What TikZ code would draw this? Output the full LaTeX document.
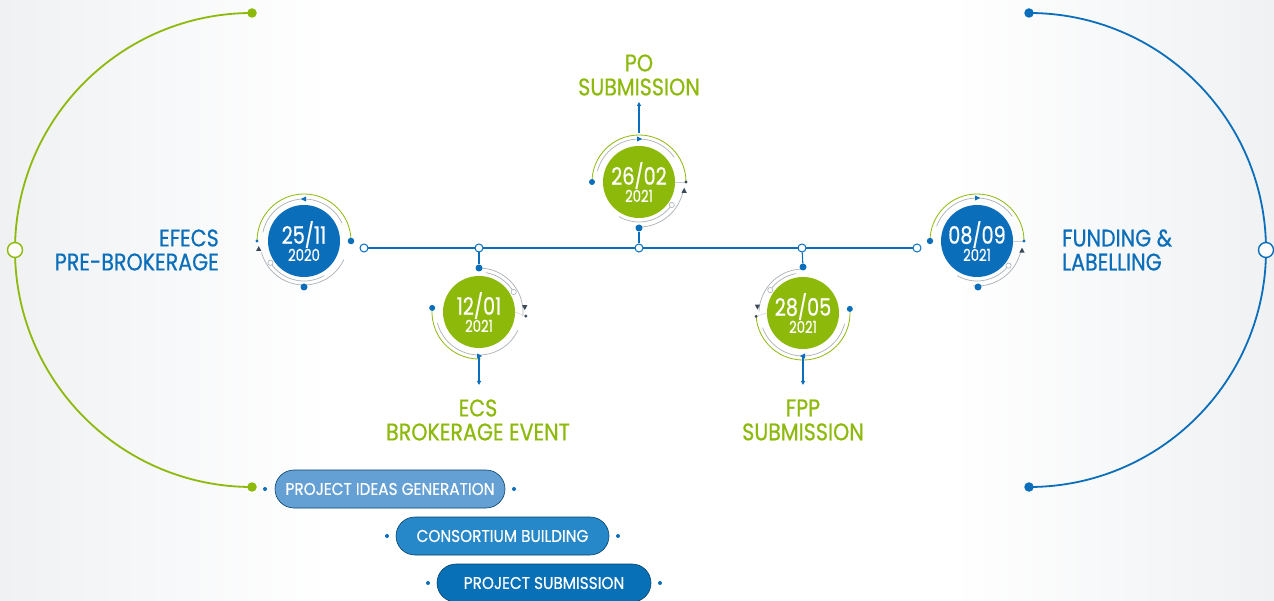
\documentclass[tikz,border=0pt]{standalone}
\usepackage{fontspec}
\setmainfont{Poppins}
\newfontfamily\lblfont[FakeStretch=0.86, FakeBold=0.6]{Poppins}
\newfontfamily\pillfont[FakeStretch=0.9, FakeBold=0.4]{Poppins}
\newfontfamily\datefont[FakeStretch=0.8, FakeBold=0.6]{Poppins}
\usetikzlibrary{arrows.meta,shapes.misc}
\definecolor{mblue}{RGB}{10,110,186}
\definecolor{mgreen}{RGB}{141,185,10}
\definecolor{ringgrey}{RGB}{170,176,182}
\definecolor{darkmark}{RGB}{60,75,90}
\definecolor{bgg}{RGB}{239,241,243}
\definecolor{pillA}{RGB}{101,160,213}
\definecolor{pillB}{RGB}{38,136,200}
\definecolor{pillC}{RGB}{8,112,182}
\newcommand{\tri}[3]{\fill[#3, shift={(#1)}, rotate=#2] (3,0) -- (-2,2.6) -- (-2,-2.6) -- cycle;}
\newcommand{\ringodot}[1]{\filldraw[fill=white, draw=ringgrey, line width=0.6pt] (#1) circle (2.6);}
\newcommand{\dbig}{\fontsize{24}{14.5}\selectfont}
\tikzset{
  opendot/.style={circle, draw=mblue, fill=white, line width=1pt, minimum size=8pt, inner sep=0pt},
  bigopen/.style={circle, fill=white, line width=1.4pt, minimum size=15pt, inner sep=0pt},
  dotnode/.style={circle, fill=mblue, minimum size=7pt, inner sep=0pt},
  enddot/.style={circle, minimum size=9.5pt, inner sep=0pt},
  datecirc/.style={circle, minimum size=72pt, inner sep=0pt, text=white, align=center, font=\datefont\fontsize{16.5}{14.5}\selectfont},
  ringg/.style={mgreen, line width=0.8pt},
  ringr/.style={ringgrey, line width=0.7pt},
  stem/.style={mblue, line width=1.1pt},
  lbl/.style={font=\lblfont\fontsize{24}{24}\selectfont, inner sep=0pt},
  pill/.style={rounded rectangle, minimum height=38pt, text=white, draw=pillC!60!black, line width=0.6pt, font=\pillfont\fontsize{17}{17}\selectfont, inner sep=0pt},
  pdot/.style={circle, fill=mblue, minimum size=4pt, inner sep=0pt},
}
\begin{document}
\begin{tikzpicture}[x=1pt,y=1pt]
\useasboundingbox (0,0) rectangle (1274,600);
% background
\fill[white] (0,0) rectangle (1274,600);
\shade[left color=bgg, right color=white] (0,0) rectangle (330,600);
\shade[left color=white, right color=bgg] (950,0) rectangle (1274,600);

% big side arcs
\draw[mgreen, line width=1.8pt] (252,587) arc[start angle=90, end angle=270, radius=237];
\node[enddot, fill=mgreen] (gtop) at (252,587) {};
\node[enddot, fill=mgreen] (gbot) at (252,113) {};
\node[bigopen, draw=mgreen] (gmid) at (15,350) {};
\draw[mblue, line width=1.8pt] (1029,587) arc[start angle=90, end angle=-90, radius=237];
\node[enddot, fill=mblue] (btop) at (1029,587) {};
\node[enddot, fill=mblue] (bbot) at (1029,113) {};
\node[bigopen, draw=mblue] (bmid) at (1266,350) {};

% timeline
\coordinate (t1c) at (364,352);
\coordinate (t5c) at (917,352);
\draw[stem, line width=1.3pt] (t1c) -- (t5c);
\node[opendot] (t1) at (364,352) {};
\node[opendot] (t2) at (479,352) {};
\node[opendot] (t3) at (639,352) {};
\node[opendot] (t4) at (802,352) {};
\node[opendot] (t5) at (917,352) {};

% ---- A 25/11
\begin{scope}[shift={(304,359)}]
  \draw[ringg] (180:47) arc[start angle=180, end angle=0, radius=47];
  \draw[ringr] (168:42) arc[start angle=168, end angle=25, radius=42];
  \draw[ringr] (195:44) arc[start angle=195, end angle=335, radius=44];
  \draw[ringr] (213:40) arc[start angle=213, end angle=300, radius=40];
  \fill[mblue] (0:47) circle (3.3);
  \fill[mblue] (180:47) circle (1.6);
  \tri{90:42}{180}{mblue}
  \tri{190:46}{90}{darkmark}
  \ringodot{213:40}
\end{scope}
\node[dotnode] (Abot) at (304,313) {};
\node[datecirc, fill=mblue] (A) at (304,359) {{\dbig 25/11}\\2020};

% ---- B 12/01
\begin{scope}[shift={(479,288)}]
  \draw[ringr] (90:44) arc[start angle=90, end angle=-5, radius=44];
  \draw[ringr] (80:40) arc[start angle=80, end angle=30, radius=40];
  \draw[ringg] (175:47) arc[start angle=175, end angle=272, radius=47];
  \draw[ringr] (195:43) arc[start angle=195, end angle=335, radius=43];
  \draw[ringgrey!60, line width=0.5pt] (0:36) -- (-5:47);
  \fill[mblue] (175:47) circle (3);
  \fill[darkmark] (-5:47) circle (1.6);
  \tri{6:46}{-90}{darkmark}
  \tri{270:44}{0}{mblue}
  \ringodot{30:40}
\end{scope}
\node[dotnode] (Btop) at (479,332) {};
\coordinate (Bbot) at (479,244);
\coordinate (Barr) at (479,215);
\draw[stem] (t2) -- (Btop);
\draw[stem, -{Triangle[length=4pt,width=4pt]}] (Bbot) -- (Barr);
\node[datecirc, fill=mgreen] (B) at (479,288) {{\dbig 12/01}\\2021};

% ---- C 26/02
\begin{scope}[shift={(639,418)}]
  \draw[ringg] (180:47) arc[start angle=180, end angle=0, radius=47];
  \draw[ringr] (165:43) arc[start angle=165, end angle=35, radius=43];
  \draw[ringr] (-10:45) arc[start angle=-10, end angle=-95, radius=45];
  \draw[ringr] (-35:40) arc[start angle=-35, end angle=-120, radius=40];
  \draw[ringgrey!60, line width=0.5pt] (0:36) -- (0:47);
  \fill[mblue] (180:47) circle (3);
  \fill[darkmark] (0:47) circle (1.6);
  \tri{90:43}{0}{mblue}
  \tri{-11:46}{90}{darkmark}
  \ringodot{-35:40}
\end{scope}
\node[dotnode] (Cbot) at (639,372) {};
\coordinate (Ctop) at (639,467);
\coordinate (Carr) at (639,498);
\draw[stem] (t3) -- (Cbot);
\draw[stem, -{Triangle[length=4pt,width=4pt]}] (Ctop) -- (Carr);
\node[datecirc, fill=mgreen] (C) at (639,418) {{\dbig 26/02}\\2021};

% ---- D 28/05
\begin{scope}[shift={(803,287)}]
  \draw[ringr] (90:44) arc[start angle=90, end angle=178, radius=44];
  \draw[ringr] (100:40) arc[start angle=100, end angle=145, radius=40];
  \draw[ringg] (184:47) arc[start angle=184, end angle=365, radius=47];
  \draw[ringr] (200:43) arc[start angle=200, end angle=345, radius=43];
  \draw[ringgrey!60, line width=0.5pt] (180:36) -- (184:47);
  \fill[mblue] (5:47) circle (3);
  \fill[darkmark] (184:47) circle (1.6);
  \tri{172:46}{-90}{darkmark}
  \tri{270:43}{180}{mblue}
  \ringodot{145:40}
\end{scope}
\node[dotnode] (Dtop) at (803,333) {};
\coordinate (Dbot) at (803,244);
\coordinate (Darr) at (803,215);
\draw[stem] (t4) -- (Dtop);
\draw[stem, -{Triangle[length=4pt,width=4pt]}] (Dbot) -- (Darr);
\node[datecirc, fill=mgreen] (D) at (803,287) {{\dbig 28/05}\\2021};

% ---- E 08/09
\begin{scope}[shift={(977,359)}]
  \draw[ringg] (180:47) arc[start angle=180, end angle=0, radius=47];
  \draw[ringr] (160:43) arc[start angle=160, end angle=35, radius=43];
  \draw[ringr] (-12:45) arc[start angle=-12, end angle=-95, radius=45];
  \draw[ringr] (-38:40) arc[start angle=-38, end angle=-120, radius=40];
  \draw[ringgrey!60, line width=0.5pt] (0:36) -- (0:47);
  \fill[mblue] (180:47) circle (3.2);
  \fill[mblue] (0:47) circle (1.6);
  \tri{90:43}{0}{mblue}
  \tri{-12:46}{90}{darkmark}
  \ringodot{-38:40}
\end{scope}
\node[dotnode] (Ebot) at (978,313) {};
\node[datecirc, fill=mblue] (E) at (977,359) {{\dbig 08/09}\\2021};

% labels
\node[lbl, text=mblue, align=right, anchor=east] (lA) at (219,350) {EFECS\\PRE-BROKERAGE};
\node[lbl, text=mgreen, align=center] (lC) at (639,525) {PO\\SUBMISSION};
\node[lbl, text=mgreen, align=center] (lB) at (478,180) {ECS\\BROKERAGE EVENT};
\node[lbl, text=mgreen, align=center] (lD) at (803,180) {FPP\\SUBMISSION};
\node[lbl, text=mblue, align=left, anchor=west] (lE) at (1062,350) {FUNDING \&\\LABELLING};

% pills
\node[pill, fill=pillA, minimum width=230pt] (p1) at (390,111) {PROJECT IDEAS GENERATION};
\node[pill, fill=pillB, minimum width=213pt] (p2) at (502.5,64) {CONSORTIUM BUILDING};
\node[pill, fill=pillC, minimum width=214pt] (p3) at (544,17) {PROJECT SUBMISSION};
\node[pdot] (p1l) at (265,111) {};
\node[pdot] (p1r) at (514,111) {};
\node[pdot] (p2l) at (387,64) {};
\node[pdot] (p2r) at (618,64) {};
\node[pdot] (p3l) at (428,17) {};
\node[pdot] (p3r) at (660,17) {};
\end{tikzpicture}
\end{document}
